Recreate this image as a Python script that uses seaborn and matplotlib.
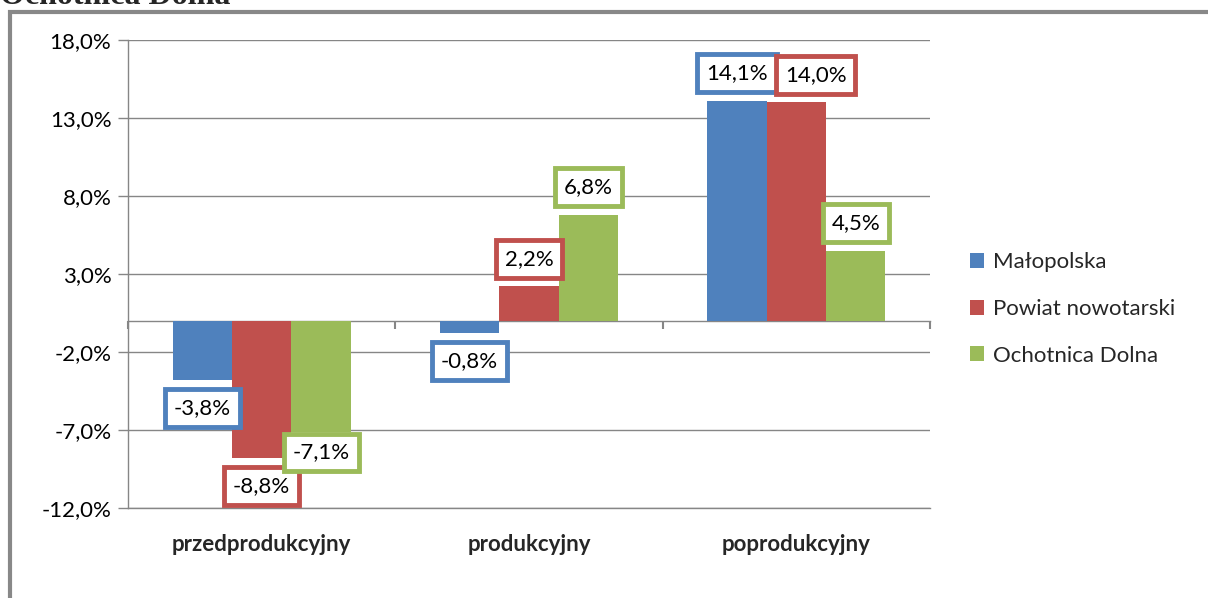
import pandas as pd
import matplotlib
matplotlib.use('Agg')
import matplotlib.pyplot as plt
from matplotlib.patches import Rectangle
from matplotlib.ticker import FuncFormatter
import seaborn as sns

# data (percent)
groups = ['przedprodukcyjny', 'produkcyjny', 'poprodukcyjny']
series = ['Małopolska', 'Powiat nowotarski', 'Ochotnica Dolna']
malopolska = [-3.8, -0.8, 14.1]
powiat = [-8.8, 2.2, 14.0]
ochotnica = [-7.1, 6.8, 4.5]
colors = ['#4F81BD', '#C0504D', '#9BBB59']
title = 'Ochotnica Dolna'

# label nudges (points), like Excel's collision avoidance
nudges = {(1, 2): (14, 0), (2, 0): (0, 5)}

df = pd.DataFrame({
    'grupa': groups * 3,
    'seria': [s for s in series for _ in groups],
    'wartosc': malopolska + powiat + ochotnica,
})

sns.set_theme(style='white')
plt.rcParams['font.family'] = ['Lato', 'DejaVu Sans']
grid_col = '#868686'
fs = 16

fig = plt.figure(figsize=(12.08, 5.98), dpi=100)
ax = fig.add_axes([128 / 1208, 1 - 508 / 598, (930 - 128) / 1208, (508 - 40) / 598])

sns.barplot(ax=ax, data=df, x='grupa', y='wartosc', hue='seria', order=groups,
            hue_order=series, palette=colors, width=0.667, saturation=1, linewidth=0,
            legend=True)

ymin, ymax = -12, 18
ax.set_ylim(ymin, ymax)
ax.set_xlim(-0.5, 2.5)
ax.set_yticks(range(ymin, ymax + 1, 5))
ax.yaxis.set_major_formatter(FuncFormatter(lambda v, p: f'{v:.1f}%'.replace('.', ',')))
ax.tick_params(axis='y', direction='out', length=7, width=1, color=grid_col,
               labelsize=fs, labelcolor='black', left=True, pad=5)
ax.tick_params(axis='x', length=0, labelsize=fs, pad=19)
for lab in ax.get_xticklabels():
    lab.set_fontweight('bold')
ax.set_xlabel('')
ax.set_ylabel('')
ax.grid(axis='y', color=grid_col, lw=1)
ax.set_axisbelow(True)
for side in ['top', 'right']:
    ax.spines[side].set_visible(False)
for side in ['left', 'bottom']:
    ax.spines[side].set_color(grid_col)
    ax.spines[side].set_linewidth(1)

# zero axis with category boundary ticks
zero_pos = (0 - ymin) / (ymax - ymin)
sec = ax.secondary_xaxis(zero_pos)
sec.set_xticks([-0.5, 0.5, 1.5, 2.5])
sec.tick_params(direction='out', length=6, width=1.5, color=grid_col, labelbottom=False,
                labeltop=False, bottom=True, top=False)
sec.xaxis.set_ticks_position('bottom')
sec.set_xticklabels([])
sec.spines['bottom'].set_color(grid_col)
sec.spines['bottom'].set_linewidth(1)
sec.spines['top'].set_visible(False)

# data labels in coloured boxes
for si, (cont, col) in enumerate(zip(ax.containers, colors)):
    for gi, bar in enumerate(cont):
        v = bar.get_height()
        x = bar.get_x() + bar.get_width() / 2
        dx, dy = nudges.get((si, gi), (0, 0))
        off = 20 if v >= 0 else -20
        ax.annotate(f'{v:.1f}%'.replace('.', ','), (x, v), xytext=(dx, off + dy),
                    textcoords='offset points', ha='center', va='center', fontsize=fs,
                    color='black', zorder=5,
                    bbox=dict(boxstyle='square,pad=0.4', fc='white', ec=col, lw=3.5))

handles, labels = ax.get_legend_handles_labels()
ax.legend(handles, labels, loc='center left', bbox_to_anchor=(970 / 1208, 1 - 309 / 598),
          bbox_transform=fig.transFigure, frameon=False, fontsize=fs, handlelength=0.65,
          handleheight=0.65, handletextpad=0.4, labelspacing=1.2, borderpad=0,
          borderaxespad=0)

# outer frame and cut title
fig.patches.append(Rectangle((10 / 1208, -0.2), 1.3, 1.2 - 11.5 / 598, transform=fig.transFigure,
                             fill=False, ec='#888888', lw=3, zorder=0))
fig.text(0.0, 1 - 4 / 598, title, family='Liberation Serif', fontweight='bold', fontsize=23,
         ha='left', va='baseline')

fig.savefig('out.png', dpi=100)
